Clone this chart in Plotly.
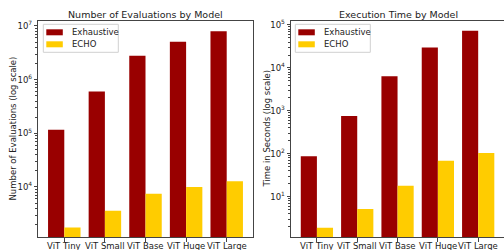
import plotly.graph_objects as go

models = ["ViT Tiny", "ViT Small", "ViT Base", "ViT Huge", "ViT Large"]
evals_exhaustive = [117000, 600000, 2800000, 5100000, 8000000]
evals_echo = [1750, 3600, 7500, 10000, 12800]
time_exhaustive = [88, 760, 6400, 30000, 73000]
time_echo = [1.9, 5.2, 18, 69, 104]
series_names = ["Exhaustive", "ECHO"]

RED = "#990000"
GOLD = "#FFCC00"
COLORS = [RED, GOLD]
FONT = "DejaVu Sans"
W, H = 504, 250

fig = go.Figure()
fig.add_trace(go.Bar(x=models, y=evals_exhaustive, name=series_names[0], marker_color=RED,
                     marker_line_width=0, xaxis="x", yaxis="y"))
fig.add_trace(go.Bar(x=models, y=evals_echo, name=series_names[1], marker_color=GOLD,
                     marker_line_width=0, xaxis="x", yaxis="y"))
fig.add_trace(go.Bar(x=models, y=time_exhaustive, name=series_names[0], marker_color=RED,
                     marker_line_width=0, xaxis="x2", yaxis="y2"))
fig.add_trace(go.Bar(x=models, y=time_echo, name=series_names[1], marker_color=GOLD,
                     marker_line_width=0, xaxis="x2", yaxis="y2"))

axline = dict(showline=True, mirror=True, linecolor="#444", linewidth=1,
              showgrid=False, zeroline=False, ticks="outside", ticklen=3.5,
              tickcolor="#444", automargin=False,
              tickfont=dict(family=FONT, size=8.5, color="#222"))

ydom = [1 - 237 / H, 1 - 21 / H]

shapes = []
annotations = []


def px(x):
    return x / W


def py(y):
    return 1 - y / H


# custom legends (matplotlib-style) for both panels
for x0 in (43.3, 295.3):
    shapes.append(dict(type="rect", xref="paper", yref="paper",
                       x0=px(x0), x1=px(x0 + 75), y0=py(52.3), y1=py(24.3),
                       line=dict(color="#d0d0d0", width=1), fillcolor="rgba(255,255,255,0.8)",
                       layer="above"))
    for i, (name, col) in enumerate(zip(series_names, COLORS)):
        yc = 32.3 + 12 * i
        shapes.append(dict(type="rect", xref="paper", yref="paper",
                           x0=px(x0 + 3), x1=px(x0 + 19.5), y0=py(yc + 3), y1=py(yc - 3),
                           line=dict(width=0), fillcolor=col, layer="above"))
        annotations.append(dict(text=name, x=px(x0 + 26.5), y=py(yc), xref="paper", yref="paper",
                                showarrow=False, xanchor="left", yanchor="middle",
                                font=dict(family=FONT, size=8.5, color="#222")))

# category tick labels placed just below each panel
for xref in ("x", "x2"):
    for m in models:
        annotations.append(dict(text=m, x=m, xref=xref, y=py(245.5), yref="paper",
                                showarrow=False, xanchor="center", yanchor="middle",
                                font=dict(family=FONT, size=8.5, color="#222")))

# titles and y-axis labels
annotations += [
    dict(text="Number of Evaluations by Model", x=px(145.5), y=py(14),
         xref="paper", yref="paper", showarrow=False, xanchor="center", yanchor="middle",
         font=dict(family=FONT, size=9.5, color="#222")),
    dict(text="Execution Time by Model", x=px(398), y=py(14),
         xref="paper", yref="paper", showarrow=False, xanchor="center", yanchor="middle",
         font=dict(family=FONT, size=9.5, color="#222")),
    dict(text="Number of Evaluations (log scale)", x=px(12.5), y=py(129), textangle=-90,
         xref="paper", yref="paper", showarrow=False, xanchor="center", yanchor="middle",
         font=dict(family=FONT, size=8.5, color="#222")),
    dict(text="Time in Seconds (log scale)", x=px(266.5), y=py(129), textangle=-90,
         xref="paper", yref="paper", showarrow=False, xanchor="center", yanchor="middle",
         font=dict(family=FONT, size=8.5, color="#222")),
]

fig.update_layout(
    width=W, height=H, margin=dict(l=0, r=0, t=0, b=0),
    paper_bgcolor="white", plot_bgcolor="white",
    barmode="group", bargap=0.2, bargroupgap=0, showlegend=False,
    font=dict(family=FONT, size=8.5, color="#222"),
    xaxis=dict(domain=[38.3 / W, 252.7 / W], range=[-0.64, 4.64], anchor="y",
               showticklabels=False, **axline),
    xaxis2=dict(domain=[291.1 / W, 1.0], range=[-0.64, 4.64], anchor="y2",
                showticklabels=False, **axline),
    yaxis=dict(domain=ydom, type="log", range=[3.068, 7.093], anchor="x",
               tickvals=[1e4, 1e5, 1e6, 1e7],
               ticktext=["10<sup>4</sup>", "10<sup>5</sup>", "10<sup>6</sup>", "10<sup>7</sup>"],
               minor=dict(ticks="outside", ticklen=2, tickcolor="#444", dtick="D1"),
               **axline),
    yaxis2=dict(domain=ydom, type="log", range=[0.061, 5.093], anchor="x2",
                tickvals=[1e1, 1e2, 1e3, 1e4, 1e5],
                ticktext=["10<sup>1</sup>", "10<sup>2</sup>", "10<sup>3</sup>", "10<sup>4</sup>", "10<sup>5</sup>"],
                minor=dict(ticks="outside", ticklen=2, tickcolor="#444", dtick="D1"),
                **axline),
    shapes=shapes,
    annotations=annotations,
)

fig.write_html("out.html", config={"displayModeBar": False, "staticPlot": True},
               post_script="document.body.style.margin='0';document.body.style.padding='0';"
                           "document.body.style.overflow='hidden';")
